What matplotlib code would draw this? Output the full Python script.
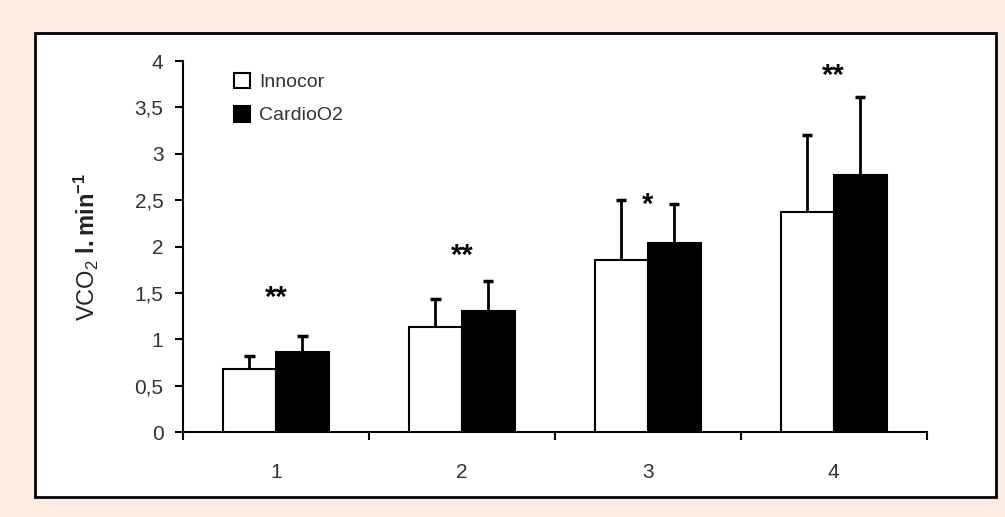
import matplotlib.pyplot as plt
import numpy as np
from matplotlib.patches import Rectangle

plt.rcParams["font.family"] = ["Liberation Sans", "DejaVu Sans"]
plt.rcParams["mathtext.fontset"] = "custom"
plt.rcParams["mathtext.rm"] = "Liberation Sans"
plt.rcParams["mathtext.bf"] = "Liberation Sans:bold"

# data
categories = ["1", "2", "3", "4"]
innocor = [0.68, 1.13, 1.85, 2.37]
innocor_sd = [0.14, 0.30, 0.65, 0.83]
cardio = [0.86, 1.31, 2.04, 2.77]
cardio_sd = [0.17, 0.32, 0.42, 0.84]
stars = ["**", "**", "*", "**"]
star_y = [1.45, 1.90, 2.45, 3.84]

bg = "#fdece1"
txt = "#333333"

fig = plt.figure(figsize=(10.05, 5.17), dpi=100, facecolor=bg)
# white framed panel
fig.patches.append(Rectangle((0.035, 0.039), 0.956, 0.897, transform=fig.transFigure,
                             facecolor="white", edgecolor="black", linewidth=2, zorder=-5))

ax = fig.add_axes([0.182, 0.1644, 0.740, 0.7176])
ax.set_facecolor("none")

x = np.arange(len(categories))
w = 0.285
cap = 0.028
for xs, vals, sds, col, lab in [(x - w / 2, innocor, innocor_sd, "white", "Innocor"),
                                (x + w / 2, cardio, cardio_sd, "black", "CardioO2")]:
    ax.bar(xs, vals, w, color=col, edgecolor="black", linewidth=1.5, label=lab, zorder=3)
    tops = np.array(vals) + np.array(sds)
    # upper half error bars only
    ax.vlines(xs, vals, tops, color="black", linewidth=2, zorder=2)
    ax.hlines(tops, xs - cap, xs + cap, color="black", linewidth=2.5, zorder=2)

for xi, s, yi in zip(x, stars, star_y):
    ax.text(xi, yi, s, ha="center", va="center", fontsize=21, fontweight="bold", color="black")

ax.set_xlim(-0.5, 3.5)
ax.set_ylim(0, 4)
ax.set_yticks(np.arange(0, 4.01, 0.5))
ax.set_yticklabels([("%g" % v).replace(".", ",") for v in np.arange(0, 4.01, 0.5)])
ax.set_xticks(np.arange(-0.5, 3.6, 1))
ax.set_xticklabels([])
ax.set_xticks(x, minor=True)
ax.set_xticklabels(categories, minor=True)
ax.tick_params(axis="x", which="minor", length=0, pad=22, labelsize=15, labelcolor=txt)
ax.tick_params(axis="x", which="major", length=6, width=1.5, direction="out")
ax.tick_params(axis="y", length=6, width=1.5, labelsize=15, labelcolor=txt, pad=8)

for s in ["top", "right"]:
    ax.spines[s].set_visible(False)
for s in ["left", "bottom"]:
    ax.spines[s].set_linewidth(1.5)

ax.set_ylabel(r"VCO$_2$ $\mathbf{l.min^{-1}}$", fontsize=17, color="#222222", labelpad=24)

leg = ax.legend(loc="upper left", bbox_to_anchor=(0.045, 1.015), frameon=False, fontsize=14,
                handlelength=0.85, handleheight=0.85, handletextpad=0.45, labelspacing=0.75)
for t in leg.get_texts():
    t.set_color(txt)

fig.savefig("out.png", dpi=100, facecolor=bg)
